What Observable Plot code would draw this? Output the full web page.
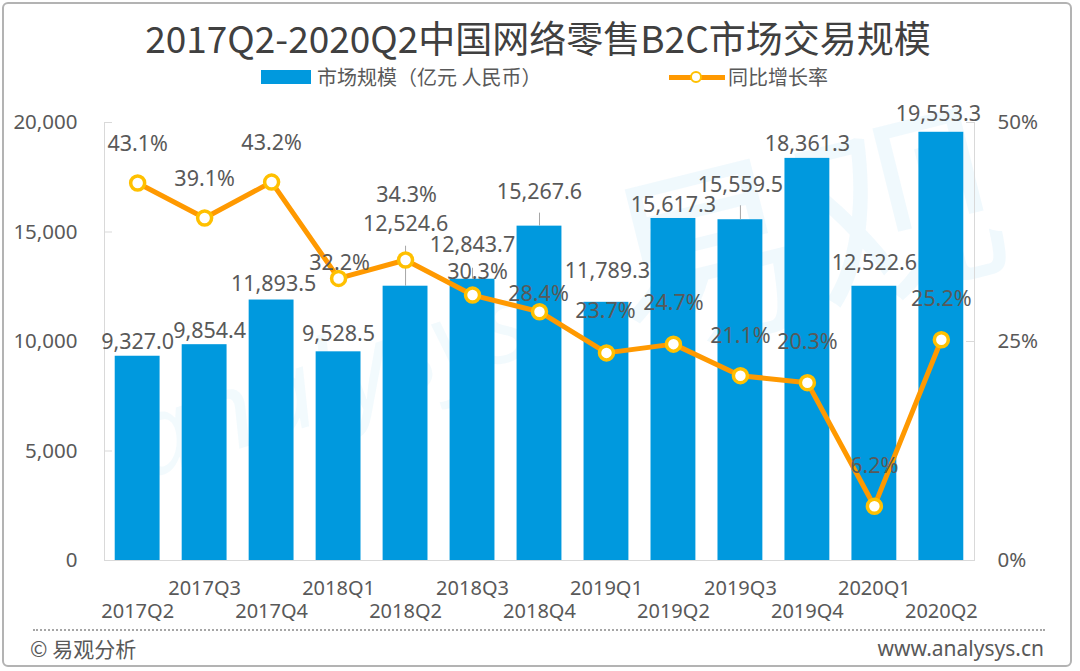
<!DOCTYPE html>
<html>
<head>
<meta charset="utf-8">
<script src="https://cdn.jsdelivr.net/npm/d3@7"></script>
<script src="https://cdn.jsdelivr.net/npm/@observablehq/plot@0.6"></script>
<style>
  html, body { margin: 0; padding: 0; background: #fff; }
  body { width: 1080px; height: 671px; position: relative; overflow: hidden;
         font-family: "Noto Sans CJK SC", "Noto Sans", sans-serif; color: #595959; }
  #frame { position: absolute; left: 2px; top: 2px; width: 1066px; height: 661px;
           border: 2.5px solid #b3b3b3; border-radius: 6px; box-sizing: content-box; }
  #title { position: absolute; left: 0; top: 12px; width: 1076px; text-align: center;
           font-size: 37px; line-height: 50px; color: #404040; }
  .legend-text { position: absolute; top: 63px; font-size: 20px; line-height: 28px; color: #595959; white-space: nowrap; }
  #lg-bar { position: absolute; left: 261px; top: 70px; width: 50px; height: 14px; background: #0099DE; }
  #lg-line { position: absolute; left: 669px; top: 74.5px; width: 56px; height: 5px; background: #FF9900; }
  #lg-dot { position: absolute; left: 690px; top: 71px; width: 8px; height: 8px; border-radius: 50%;
            background: #fff; border: 2px solid #FFC000; }
  #chart { position: absolute; left: 0; top: 95px; }
  #watermark { position: absolute; left: 600px; top: 110px; font-size: 200px; line-height: 220px;
               color: rgba(0,153,222,0.06); transform: rotate(-14deg); white-space: nowrap; }
  #watermark2 { position: absolute; left: 120px; top: 300px; font-size: 110px; font-style: italic;
               color: rgba(0,153,222,0.05); transform: rotate(-18deg); white-space: nowrap; font-family: "Noto Sans", sans-serif; }
  #dots { position: absolute; left: 33px; top: 629px; width: 1012px; border-top: 2px dotted #a6a6a6; }
  #src { position: absolute; left: 30px; top: 634px; font-size: 21px; line-height: 28px; color: #595959; }
  #site { position: absolute; right: 36px; top: 634px; font-size: 21px; line-height: 28px; color: #595959;
          font-family: "Noto Sans", sans-serif; }
</style>
</head>
<body>
<div id="watermark">易观</div>
<div id="watermark2">analysys</div>
<div id="title">2017Q2-2020Q2中国网络零售B2C市场交易规模</div>
<div id="lg-bar"></div>
<div class="legend-text" style="left:317px">市场规模（亿元 人民币）</div>
<div id="lg-line"></div>
<div id="lg-dot"></div>
<div class="legend-text" style="left:728px">同比增长率</div>
<div id="chart"></div>
<div id="dots"></div>
<div id="src">© 易观分析</div>
<div id="site">www.analysys.cn</div>
<div id="frame"></div>
<script>
// ---- data ----
const quarters = ["2017Q2","2017Q3","2017Q4","2018Q1","2018Q2","2018Q3","2018Q4",
                  "2019Q1","2019Q2","2019Q3","2019Q4","2020Q1","2020Q2"];
const marketSize = [9327.0, 9854.4, 11893.5, 9528.5, 12524.6, 12843.7, 15267.6,
                    11789.3, 15617.3, 15559.5, 18361.3, 12522.6, 19553.3];
const growthRate = [43.1, 39.1, 43.2, 32.2, 34.3, 30.3, 28.4,
                    23.7, 24.7, 21.1, 20.3, 6.2, 25.2];
const leftTicks = [0, 5000, 10000, 15000, 20000];
const rightTicks = [0, 25, 50];

// ---- label layout (pixel nudges, like manually moved Excel labels) ----
const barLabelDx  = [0, 5, 2, 0, 0, 0, 0, 1, 0, 0, 0, 0, -3];
const barLabelDy  = [-14, -14, -16, -18, -62, -34, -34, -31, -13, -35, -14, -23, -18];
const rateLabelDx = [0, 0, 0, 1, 1, 5, -1, -1, 0, 0, 0, 0, 0];
const rateLabelDy = [-39, -39, -39, -15, -65, -23, -18, -42, -41, -40, -41, -40, -41];
const leaderPx    = [0, 0, 0, 0, 40, 11, 13, 0, 0, 14, 0, 0, 0];

const W = 1080, H = 535, MT = 27, MB = 70, ML = 104, MR = 106;
const yMax = 20000, rateMax = 50;
const R2S = yMax / rateMax;               // right axis (0-50%) aligned on left axis (0-20,000)
const unitsPerPx = yMax / (H - MT - MB);
const innerW = W - ML - MR;

const rows = quarters.map((q, i) => ({ q, v: marketSize[i], r: growthRate[i], i }));
const fmtSize = d3.format(",.1f");

const chart = Plot.plot({
  width: W, height: H,
  marginTop: MT, marginBottom: MB, marginLeft: ML, marginRight: MR,
  style: { fontFamily: '"Noto Sans", "Noto Sans CJK SC", sans-serif', color: "#595959",
           background: "transparent", overflow: "visible" },
  x: { type: "band", domain: quarters, paddingInner: 0.33, paddingOuter: 0.16, round: false },
  y: { domain: [0, yMax] },
  marks: [
    Plot.barY(rows, { x: "q", y: "v", fill: "#0099DE" }),
    Plot.frame({ anchor: "left", stroke: "#d9d9d9" }),
    Plot.frame({ anchor: "right", stroke: "#d9d9d9" }),
    Plot.ruleY([0], { stroke: "#d9d9d9" }),
    Plot.tickY(leftTicks, { y: d => d, stroke: "#d9d9d9", insetRight: innerW - 8 }),
    Plot.tickY(rightTicks, { y: d => d * R2S, stroke: "#d9d9d9", insetLeft: innerW - 8 }),
    Plot.axisY({ anchor: "left", ticks: leftTicks, tickFormat: d3.format(","), tickSize: 0,
                 tickPadding: 27, fontSize: 20.5, color: "#595959", label: null }),
    Plot.axisY({ anchor: "right", ticks: rightTicks.map(d => d * R2S), tickFormat: d => (d / R2S) + "%",
                 tickSize: 0, tickPadding: 23, fontSize: 20.5, color: "#595959", label: null }),
    Plot.axisX({ ticks: quarters.filter((d, i) => i % 2 === 1), tickSize: 0, tickPadding: 20,
                 fontSize: 20, color: "#595959", label: null }),
    Plot.axisX({ ticks: quarters.filter((d, i) => i % 2 === 0), tickSize: 0, tickPadding: 43,
                 fontSize: 20, color: "#595959", label: null }),
    Plot.ruleX(rows.filter(d => leaderPx[d.i] > 0), {
      x: "q", y1: "v", y2: d => d.v + leaderPx[d.i] * unitsPerPx, stroke: "#a6a6a6", strokeWidth: 1
    }),
    Plot.line(rows, { x: "q", y: d => d.r * R2S, stroke: "#FF9900", strokeWidth: 5 }),
    Plot.dot(rows, { x: "q", y: d => d.r * R2S, r: 7, fill: "white", stroke: "#FFC000", strokeWidth: 3.5 }),
    ...rows.map(d => Plot.text([d], {
      x: "q", y: "v", text: e => fmtSize(e.v), dx: barLabelDx[d.i], dy: barLabelDy[d.i],
      fontSize: 21.5, fill: "#595959"
    })),
    ...rows.map(d => Plot.text([d], {
      x: "q", y: e => e.r * R2S, text: e => e.r.toFixed(1) + "%", dx: rateLabelDx[d.i], dy: rateLabelDy[d.i],
      fontSize: 21.5, fill: "#595959"
    }))
  ]
});
document.getElementById("chart").appendChild(chart);
</script>
</body>
</html>
